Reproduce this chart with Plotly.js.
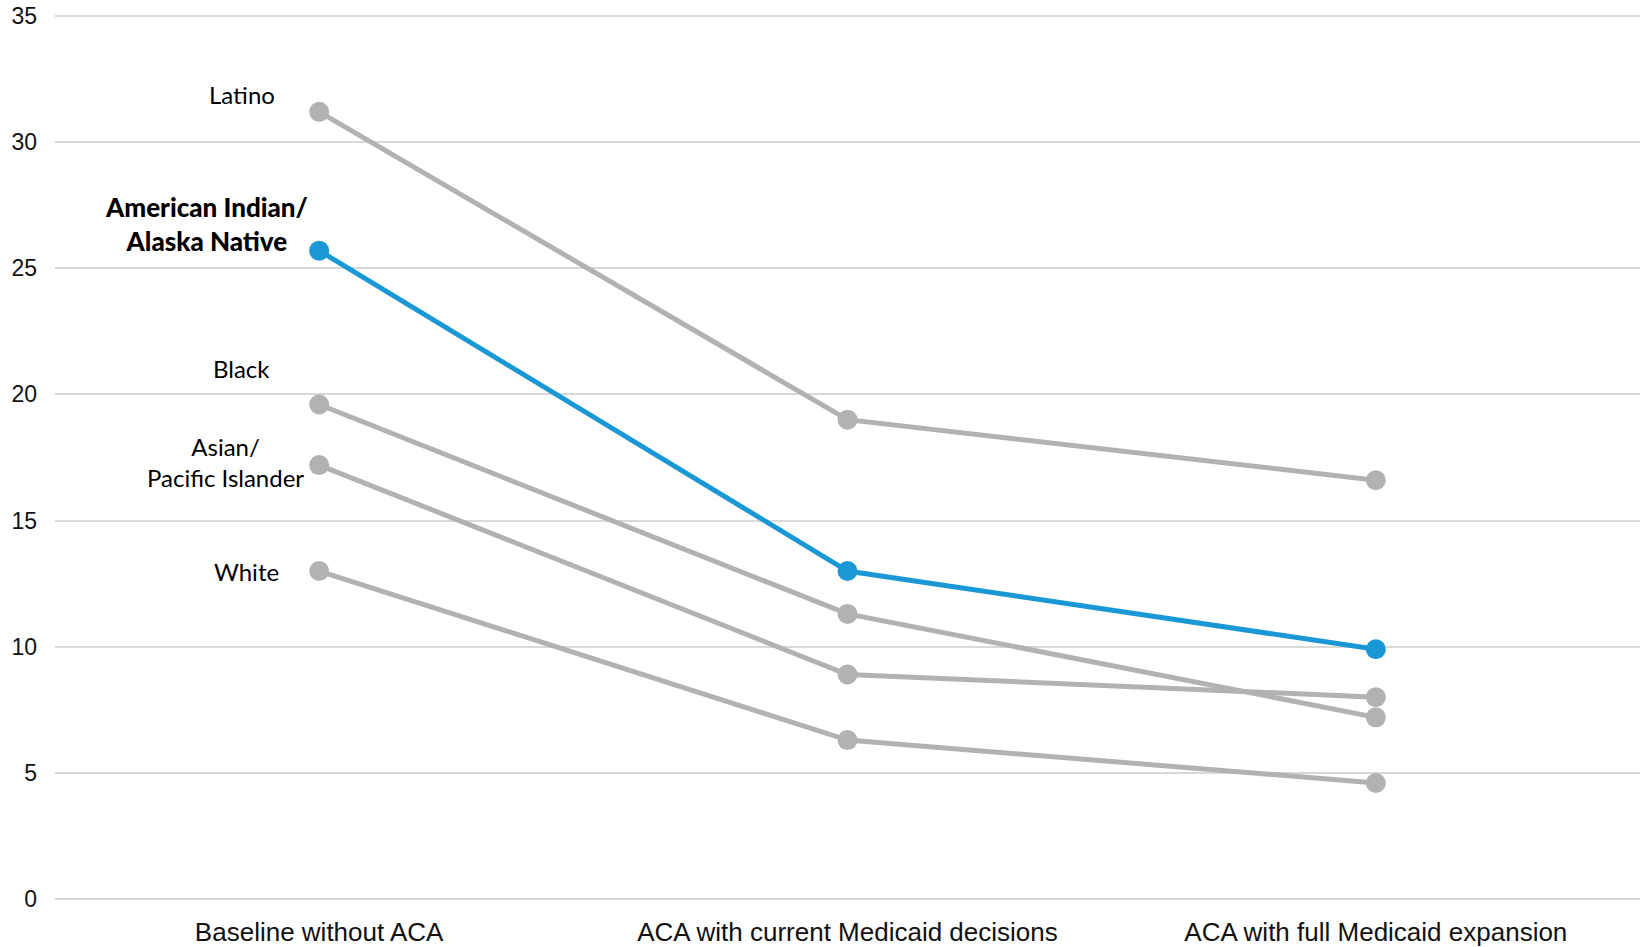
<!DOCTYPE html>
<html>
<head>
<meta charset="utf-8">
<script src="https://cdn.plot.ly/plotly-3.0.1.min.js"></script>
<style>html,body{margin:0;padding:0;background:#fff}#chart{width:1641px;height:947px}</style>
</head>
<body>
<div id="chart"></div>
<script>
const categories = ["Baseline without ACA", "ACA with current Medicaid decisions", "ACA with full Medicaid expansion"];
const groupNames = ["Latino", "American Indian/<br>Alaska Native", "Black", "Asian/<br>Pacific Islander", "White"];
const latino = [31.2, 19.0, 16.6];
const aian = [25.7, 13.0, 9.9];
const black = [19.6, 11.3, 7.2];
const asianPI = [17.2, 8.9, 8.0];
const white = [13.0, 6.3, 4.6];
const yTicks = [0, 5, 10, 15, 20, 25, 30, 35];

const GRAY = "#b1b2b1";
const BLUE = "#1a98d5";

const series = [
  {name: groupNames[0], y: latino, color: GRAY, bold: false, dx: -77, dy: 17},
  {name: groupNames[2], y: black, color: GRAY, bold: false, dx: -78, dy: 36},
  {name: groupNames[3], y: asianPI, color: GRAY, bold: false, dx: -94, dy: 3},
  {name: groupNames[4], y: white, color: GRAY, bold: false, dx: -73, dy: 0},
  {name: groupNames[1], y: aian, color: BLUE, bold: true, dx: -113, dy: 27}
];

const traces = series.map(s => ({
  type: "scatter",
  mode: "lines+markers",
  x: categories,
  y: s.y,
  name: s.name,
  line: {color: s.color, width: 5},
  marker: {color: s.color, size: 20},
  hoverinfo: "skip"
}));

const annotations = series.map(s => ({
  x: categories[0],
  y: s.y[0],
  xref: "x", yref: "y",
  text: s.name,
  showarrow: false,
  xanchor: "center", yanchor: "middle",
  align: "center",
  xshift: s.dx, yshift: s.dy,
  font: s.bold
    ? {family: "Lato, 'Open Sans', sans-serif", size: 26, color: "#000", weight: 900}
    : {family: "Lato, 'Open Sans', sans-serif", size: 24, color: "#000"}
}));

const layout = {
  width: 1641, height: 947,
  margin: {l: 55, r: 1, t: 13, b: 45},
  paper_bgcolor: "#fff", plot_bgcolor: "#fff",
  showlegend: false,
  font: {family: "'Liberation Sans', Arial, sans-serif", color: "#000"},
  xaxis: {
    type: "category",
    range: [-0.5, 2.5],
    showgrid: false, zeroline: false, showline: false,
    ticks: "",
    tickfont: {size: 26, color: "#111"},
    ticklabelstandoff: 12
  },
  yaxis: {
    range: [-0.119, 35.119],
    tickvals: yTicks,
    ticktext: yTicks.map(String),
    showgrid: true, gridcolor: "#d9d9d9", gridwidth: 2,
    zeroline: false, showline: false,
    ticks: "",
    tickfont: {size: 23, color: "#111"},
    ticklabelstandoff: 17
  },
  annotations: annotations
};

Plotly.newPlot("chart", traces, layout, {displayModeBar: false, staticPlot: true});
</script>
</body>
</html>
